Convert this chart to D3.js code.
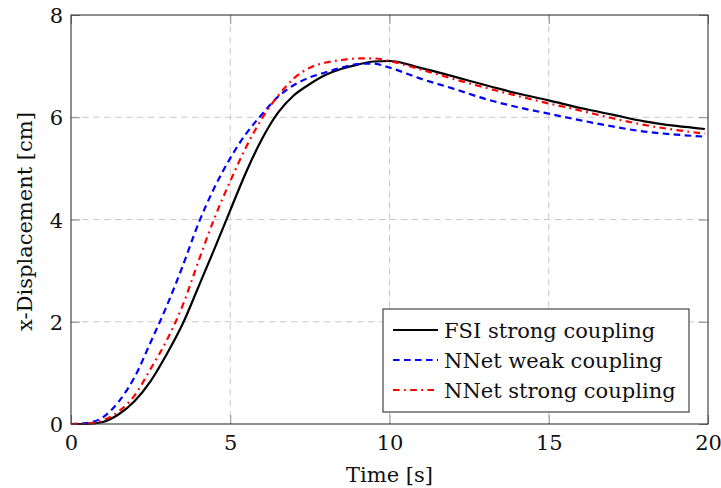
<!DOCTYPE html>
<html>
<head>
<meta charset="utf-8">
<script src="https://cdn.jsdelivr.net/npm/d3@7"></script>
<style>
    html, body { margin: 0; padding: 0; background: #fff; }
</style>
</head>
<body>
<div id="chart"></div>
<script>
// ── Data ──

const time = [0, 0.5, 1, 1.5, 2, 2.5, 3, 3.5, 4, 4.5, 5, 5.5, 6, 6.5, 7, 7.5, 8, 8.5, 9, 9.5,
              10, 11, 12, 13, 14, 15, 16, 17, 18, 19, 19.9];

const fsiStrong = [0, 0, 0.04, 0.19, 0.45, 0.84, 1.36, 1.95, 2.68, 3.42, 4.18, 4.93, 5.58, 6.09, 6.43, 6.65,
                   6.83, 6.95, 7.03, 7.09, 7.1, 6.96, 6.8, 6.63, 6.47, 6.33, 6.18, 6.05, 5.92, 5.83, 5.77];

const nnetWeak = [0, 0.02, 0.13, 0.44, 0.92, 1.6, 2.3, 3.08, 3.92, 4.62, 5.2, 5.68, 6.06, 6.4, 6.63, 6.78,
                  6.88, 6.97, 7.04, 7.05, 6.97, 6.75, 6.56, 6.36, 6.2, 6.07, 5.94, 5.82, 5.72, 5.66, 5.62];

const nnetStrong = [0, 0.01, 0.07, 0.25, 0.56, 1.08, 1.63, 2.31, 3.18, 4.02, 4.75, 5.42, 5.98, 6.42, 6.76, 6.97,
                    7.07, 7.12, 7.15, 7.15, 7.1, 6.93, 6.75, 6.58, 6.42, 6.27, 6.13, 5.98, 5.85, 5.75, 5.68];

const xTicks = [0, 5, 10, 15, 20];
const yTicks = [0, 2, 4, 6, 8];

const series = [
    { name: 'FSI strong coupling', values: fsiStrong, color: '#000000', dash: null },
    { name: 'NNet weak coupling', values: nnetWeak, color: '#0000ff', dash: '6.6,4.4' },
    { name: 'NNet strong coupling', values: nnetStrong, color: '#ff0000', dash: '6.6,4.4,1.8,4.4' },
];

const FONT = '"DejaVu Serif", serif';
const FONT_SIZE = 21;

// ── Layout ──
const W = 721, H = 488;
const plot = { left: 71, right: 708, top: 15, bottom: 424 };

const svg = d3.select('#chart')
    .append('svg')
    .attr('width', W)
    .attr('height', H)
    .attr('font-family', FONT);

const x = d3.scaleLinear().domain([0, 20]).range([plot.left, plot.right]);
const y = d3.scaleLinear().domain([0, 8]).range([plot.bottom, plot.top]);

// Grid
const grid = svg.append('g')
    .attr('stroke', '#c8c8c8')
    .attr('stroke-width', 1)
    .attr('stroke-dasharray', '6.6,4.4');

grid.selectAll('line.vx')
    .data(xTicks.slice(1, -1))
    .join('line')
    .attr('x1', d => x(d)).attr('x2', d => x(d))
    .attr('y1', plot.top).attr('y2', plot.bottom);

grid.selectAll('line.hy')
    .data(yTicks.slice(1, -1))
    .join('line')
    .attr('x1', plot.left).attr('x2', plot.right)
    .attr('y1', d => y(d)).attr('y2', d => y(d));

// Axes (ticks inside, on all sides, like pgfplots)
const tickLen = 9;
const axisBottom = svg.append('g')
    .attr('transform', `translate(0,${plot.bottom})`)
    .call(d3.axisBottom(x).tickValues(xTicks).tickSize(-tickLen).tickPadding(8).tickFormat(d3.format('d')));
const axisTop = svg.append('g')
    .attr('transform', `translate(0,${plot.top})`)
    .call(d3.axisTop(x).tickValues(xTicks).tickSize(-tickLen).tickFormat(''));
const axisLeft = svg.append('g')
    .attr('transform', `translate(${plot.left},0)`)
    .call(d3.axisLeft(y).tickValues(yTicks).tickSize(-tickLen).tickPadding(8).tickFormat(d3.format('d')));
const axisRight = svg.append('g')
    .attr('transform', `translate(${plot.right},0)`)
    .call(d3.axisRight(y).tickValues(yTicks).tickSize(-tickLen).tickFormat(''));

[axisBottom, axisTop, axisLeft, axisRight].forEach(a => {
    a.attr('font-family', FONT);
    a.select('.domain').remove();
    a.selectAll('.tick line').attr('stroke', '#8a8a8a').attr('stroke-width', 1);
    a.selectAll('.tick text').attr('font-size', FONT_SIZE).attr('fill', '#111');
});
axisBottom.selectAll('.tick text').attr('dy', '0.85em');
axisLeft.selectAll('.tick text').attr('dy', '0.36em');

// Lines
const line = d3.line()
    .x((d, i) => x(time[i]))
    .y(d => y(d))
    .curve(d3.curveMonotoneX);

svg.append('g')
    .selectAll('path')
    .data(series)
    .join('path')
    .attr('fill', 'none')
    .attr('stroke', d => d.color)
    .attr('stroke-width', 2.2)
    .attr('stroke-dasharray', d => d.dash)
    .attr('d', d => line(d.values));

// Frame
svg.append('rect')
    .attr('x', plot.left).attr('y', plot.top)
    .attr('width', plot.right - plot.left)
    .attr('height', plot.bottom - plot.top)
    .attr('fill', 'none')
    .attr('stroke', '#333')
    .attr('stroke-width', 1.1);

// Axis labels
svg.append('text')
    .attr('x', (plot.left + plot.right) / 2)
    .attr('y', 482)
    .attr('text-anchor', 'middle')
    .attr('font-size', FONT_SIZE)
    .attr('fill', '#111')
    .text('Time [s]');

svg.append('text')
    .attr('transform', `translate(32,${(plot.top + plot.bottom) / 2 + 2}) rotate(-90)`)
    .attr('text-anchor', 'middle')
    .attr('font-size', FONT_SIZE)
    .attr('fill', '#111')
    .text('x-Displacement [cm]');

// Legend
const legend = svg.append('g').attr('transform', 'translate(383,309)');
legend.append('rect')
    .attr('width', 306).attr('height', 103)
    .attr('fill', '#fff')
    .attr('stroke', '#333')
    .attr('stroke-width', 1.1);

const item = legend.selectAll('g.item')
    .data(series)
    .join('g')
    .attr('class', 'item')
    .attr('transform', (d, i) => `translate(0,${21 + i * 30})`);

item.append('line')
    .attr('x1', 10).attr('x2', 55)
    .attr('stroke', d => d.color)
    .attr('stroke-width', 2.2)
    .attr('stroke-dasharray', d => d.dash);

item.append('text')
    .attr('x', 61)
    .attr('dy', '0.36em')
    .attr('font-size', FONT_SIZE)
    .attr('fill', '#111')
    .text(d => d.name);
</script>
</body>
</html>
